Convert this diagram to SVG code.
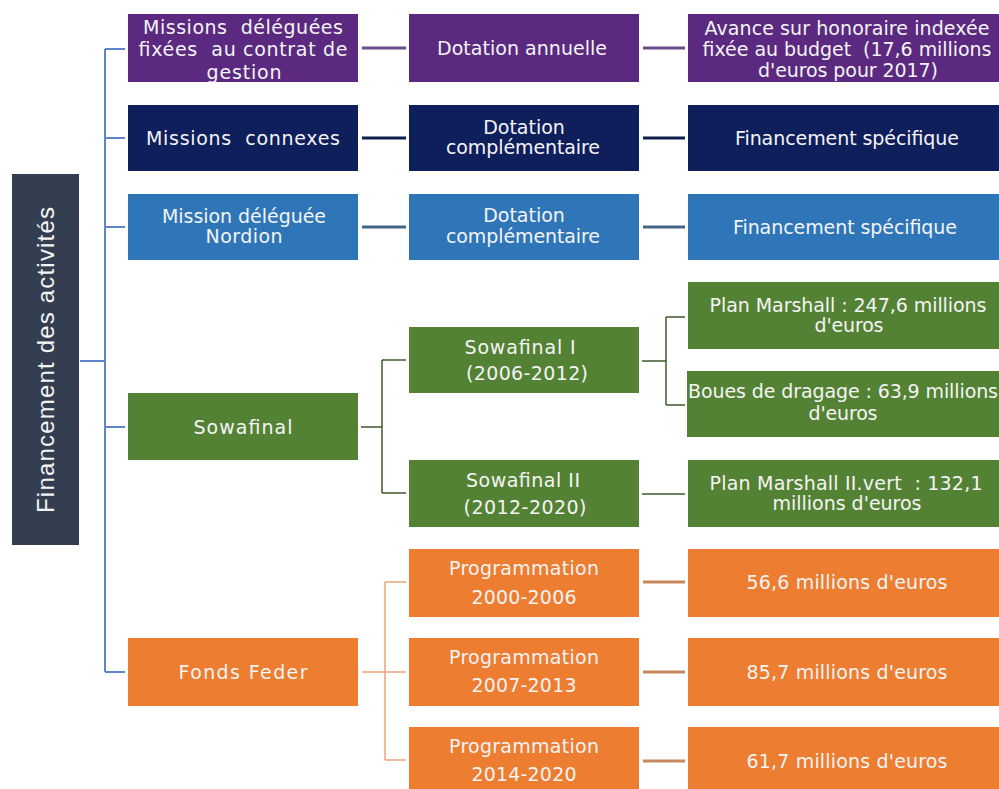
<svg xmlns="http://www.w3.org/2000/svg" width="999" height="789" viewBox="0 0 999 789">
<style>
text{font-family:"DejaVu Sans","Verdana",sans-serif;font-size:19px;fill:#f4f4f4;text-anchor:middle;dominant-baseline:central;white-space:pre}
.c{font-size:19px}
.purple{fill:#5b2a80}.navy{fill:#0f1f5c}.blue{fill:#2f76b8}.green{fill:#548235}.orange{fill:#ed7d31}.dark{fill:#333f50}
.lb{stroke:#5f86cc;stroke-width:2;fill:none}
.lp{stroke:#6b4b8d;stroke-width:3;fill:none}
.ln{stroke:#0f1f4c;stroke-width:3;fill:none}
.lbl{stroke:#45648a;stroke-width:3;fill:none}
.lg{stroke:#3e5a2a;stroke-width:1.5;fill:none}
.lo{stroke:#e9a57a;stroke-width:1.5;fill:none}
.lo2{stroke:#c9875e;stroke-width:3;fill:none}
</style>
<rect width="999" height="789" fill="#ffffff"/>
<g id="connectors">
<path class="lb" d="M105 49V672M105 49H125M105 138H125M105 227H125M105 427H125M105 672H125M80 361H105"/>
<path class="lp" d="M362 48H406M643 48H685"/>
<path class="ln" d="M362 138H406M643 138H685"/>
<path class="lbl" d="M362 227H406M643 227H685"/>
<path class="lg" d="M361 427H382M382 360V493M382 360H406M382 493H406M642 361H666M666 317V405M666 317H685M666 405H685M642 494H685"/>
<path class="lo" d="M362 672H406M385 582V760M385 582H406M385 760H406"/>
<path class="lo2" d="M643 582H685M643 672H685M643 761H685"/>
</g>
<g id="root">
<rect class="dark" x="12" y="174" width="67" height="371"/>
<text x="45" y="360" transform="rotate(-90 45 360)" style="font-family:'Liberation Sans',Arial,sans-serif;font-size:24px" textLength="306">Financement des activités</text>
</g>
<g id="n1a"><rect class="purple" x="128" y="14" width="230" height="68"/>
<text x="243" y="27" textLength="200">Missions  déléguées</text><text x="243" y="49" textLength="209">fixées  au contrat de</text><text x="244" y="72" textLength="75">gestion</text></g>
<g id="n1b"><rect class="purple" x="409" y="14" width="230" height="68"/>
<text x="522" y="48" textLength="170">Dotation annuelle</text></g>
<g id="n1c"><rect class="purple" x="688" y="14" width="311" height="68"/>
<text x="847" y="28" textLength="285">Avance sur honoraire indexée</text><text x="847" y="49" textLength="289">fixée au budget  (17,6 millions</text><text x="848" y="70" textLength="180">d'euros pour 2017)</text></g>
<g id="n2a"><rect class="navy" x="128" y="105" width="230" height="66"/>
<text x="243" y="138" textLength="194">Missions  connexes</text></g>
<g id="n2b"><rect class="navy" x="409" y="105" width="230" height="66"/>
<text x="524" y="127">Dotation</text><text x="523" y="147" textLength="154">complémentaire</text></g>
<g id="n2c"><rect class="navy" x="688" y="105" width="311" height="66"/>
<text x="847" y="138" textLength="224">Financement spécifique</text></g>
<g id="n3a"><rect class="blue" x="128" y="194" width="230" height="66"/>
<text x="244" y="216" textLength="164">Mission déléguée</text><text x="244" y="236" textLength="77">Nordion</text></g>
<g id="n3b"><rect class="blue" x="409" y="194" width="230" height="66"/>
<text x="524" y="215">Dotation</text><text x="523" y="236" textLength="154">complémentaire</text></g>
<g id="n3c"><rect class="blue" x="688" y="194" width="311" height="66"/>
<text x="845" y="227" textLength="224">Financement spécifique</text></g>
<g id="sowafinal"><rect class="green" x="128" y="393" width="230" height="67"/>
<text x="243" y="427" textLength="99">Sowafinal</text></g>
<g id="sowafinal1"><rect class="green" x="409" y="327" width="230" height="66"/>
<text class="c" x="520" y="347" textLength="111">Sowafinal I</text><text class="c" x="527" y="373" textLength="122">(2006-2012)</text></g>
<g id="sowafinal2"><rect class="green" x="409" y="460" width="230" height="67"/>
<text class="c" x="523" y="480" textLength="114">Sowafinal II</text><text class="c" x="525" y="507" textLength="123">(2012-2020)</text></g>
<g id="marshall"><rect class="green" x="688" y="282" width="311" height="67"/>
<text class="c" x="848" y="305" textLength="277">Plan Marshall : 247,6 millions</text><text class="c" x="849" y="325" textLength="69">d'euros</text></g>
<g id="boues"><rect class="green" x="687" y="371" width="312" height="66"/>
<text class="c" x="843" y="391" textLength="310">Boues de dragage : 63,9 millions</text><text class="c" x="843" y="413" textLength="69">d'euros</text></g>
<g id="marshall2"><rect class="green" x="688" y="460" width="311" height="67"/>
<text class="c" x="846" y="483" textLength="273">Plan Marshall II.vert  : 132,1</text><text class="c" x="847" y="503" textLength="149">millions d'euros</text></g>
<g id="feder"><rect class="orange" x="128" y="638" width="230" height="68"/>
<text class="c" x="243" y="672" textLength="129">Fonds Feder</text></g>
<g id="prog1"><rect class="orange" x="409" y="549" width="230" height="68"/>
<text class="c" x="524" y="568" textLength="150">Programmation</text><text class="c" x="524" y="597" textLength="105">2000-2006</text></g>
<g id="prog2"><rect class="orange" x="409" y="638" width="230" height="68"/>
<text class="c" x="524" y="657" textLength="150">Programmation</text><text class="c" x="524" y="685" textLength="105">2007-2013</text></g>
<g id="prog3"><rect class="orange" x="409" y="727" width="230" height="68"/>
<text class="c" x="524" y="746" textLength="150">Programmation</text><text class="c" x="524" y="774" textLength="105">2014-2020</text></g>
<g id="res1"><rect class="orange" x="688" y="549" width="311" height="68"/>
<text class="c" x="847" y="582" textLength="201">56,6 millions d'euros</text></g>
<g id="res2"><rect class="orange" x="688" y="638" width="311" height="68"/>
<text class="c" x="847" y="672" textLength="201">85,7 millions d'euros</text></g>
<g id="res3"><rect class="orange" x="688" y="727" width="311" height="68"/>
<text class="c" x="847" y="761" textLength="201">61,7 millions d'euros</text></g>
</svg>
